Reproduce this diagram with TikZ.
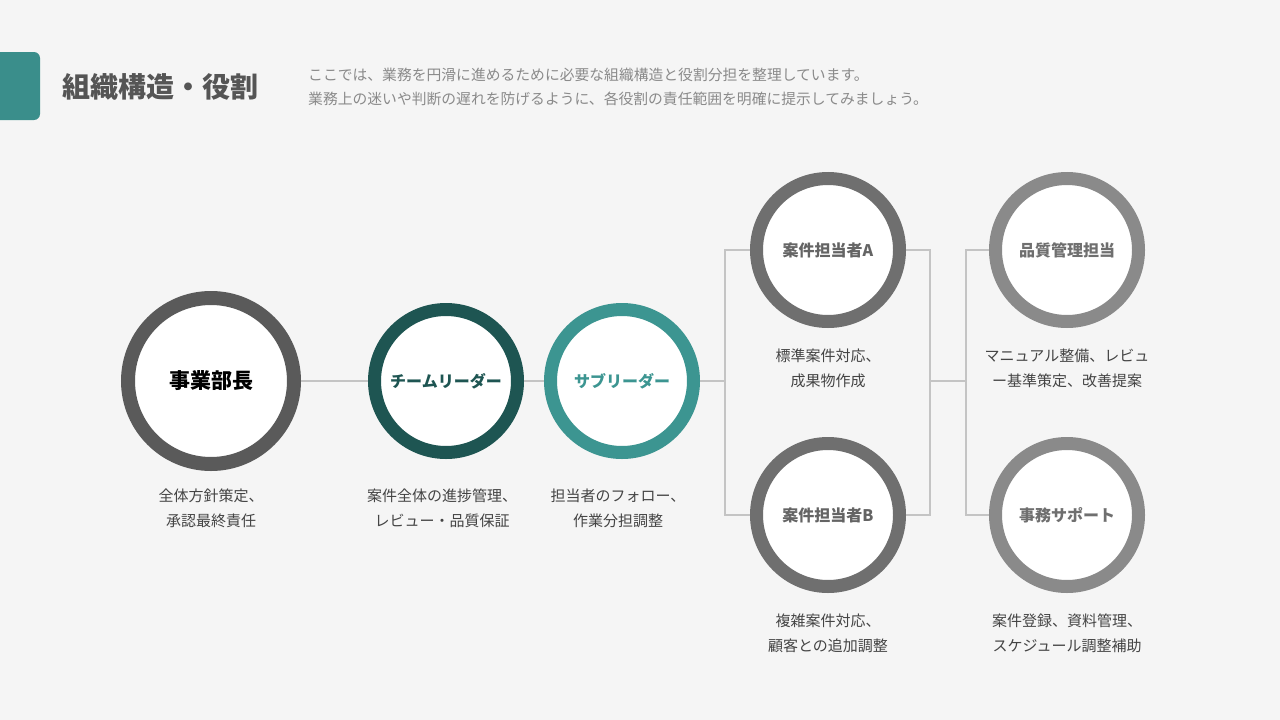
\documentclass[tikz,border=0pt]{standalone}
\usepackage{fontspec}
\setmainfont{Noto Sans CJK JP}
\definecolor{bgc}{HTML}{F5F5F5}
\definecolor{ringA}{HTML}{5A5A5A}
\definecolor{ringTL}{HTML}{1E5552}
\definecolor{ringSL}{HTML}{3C9591}
\definecolor{ringC}{HTML}{6F6F6F}
\definecolor{ringD}{HTML}{8A8A8A}
\definecolor{linec}{HTML}{C4C4C4}
\definecolor{desc}{HTML}{444444}
\definecolor{subc}{HTML}{8A8A8A}
\definecolor{titlec}{HTML}{555555}
\definecolor{tealbar}{HTML}{3A8E8B}
\begin{document}
\begin{tikzpicture}[x=1pt,y=-1pt,
  ring/.style={circle,fill=white,inner sep=0pt,font={\fontsize{16}{19}\selectfont\bfseries}},
  descbox/.style={align=center,text=desc,inner sep=0pt,font={\fontsize{15}{25}\selectfont}},
  conn/.style={draw=linec,line width=1.2pt}]
\fill[bgc] (0,0) rectangle (1280,720);
\useasboundingbox (0,0) rectangle (1280,720);
% header
\fill[tealbar,rounded corners=6pt] (-12,52) rectangle (40,120);
\node[anchor=west,text=titlec,inner sep=0pt,font={\fontsize{28}{30}\selectfont\bfseries}] (title) at (62,87) {組織構造・役割};
\node[anchor=west,text=subc,inner sep=0pt,font={\fontsize{14.8}{18}\selectfont}] (sub1) at (308,75) {ここでは、業務を円滑に進めるために必要な組織構造と役割分担を整理しています。};
\node[anchor=west,text=subc,inner sep=0pt,font={\fontsize{14.8}{18}\selectfont}] (sub2) at (308,99) {業務上の迷いや判断の遅れを防げるように、各役割の責任範囲を明確に提示してみましょう。};
% junctions
\coordinate (j1) at (725,381);
\coordinate (j2) at (930,381);
\coordinate (j3) at (966,381);
% circles
\node[ring,draw=ringA,line width=14pt,minimum size=166pt,text=black,font={\fontsize{21}{24}\selectfont\bfseries}] (bu) at (211,381) {事業部長};
\node[ring,draw=ringTL,line width=13pt,minimum size=143pt,text=ringTL] (tl) at (446,381) {チームリーダー};
\node[ring,draw=ringSL,line width=13pt,minimum size=143pt,text=ringSL] (sl) at (622,381) {サブリーダー};
\node[ring,draw=ringC,line width=13pt,minimum size=143pt,text=ringC!90!black] (ca) at (828,250) {案件担当者A};
\node[ring,draw=ringC,line width=13pt,minimum size=143pt,text=ringC!90!black] (cb) at (828,515) {案件担当者B};
\node[ring,draw=ringD,line width=13pt,minimum size=143pt,text=ringC] (qa) at (1067,250) {品質管理担当};
\node[ring,draw=ringD,line width=13pt,minimum size=143pt,text=ringC] (sp) at (1067,515) {事務サポート};
% connectors
\draw[conn] (bu) -- (tl);
\draw[conn] (tl) -- (sl);
\draw[conn] (sl) -- (j1);
\draw[conn] (ca.west) -| (j1);
\draw[conn] (cb.west) -| (j1);
\draw[conn] (ca.east) -| (j2);
\draw[conn] (cb.east) -| (j2);
\draw[conn] (j2) -- (j3);
\draw[conn] (qa.west) -| (j3);
\draw[conn] (sp.west) -| (j3);
% descriptions
\node[descbox] (d1) at (211,508.5) {全体方針策定、\\承認最終責任};
\node[descbox] (d2) at (442,508.5) {案件全体の進捗管理、\\レビュー・品質保証};
\node[descbox] (d3) at (618,508.5) {担当者のフォロー、\\作業分担調整};
\node[descbox] (d4) at (828,368.5) {標準案件対応、\\成果物作成};
\node[descbox] (d5) at (828,633.5) {複雑案件対応、\\顧客との追加調整};
\node[descbox] (d6) at (1067,368.5) {マニュアル整備、レビュ\\ー基準策定、改善提案};
\node[descbox] (d7) at (1067,633.5) {案件登録、資料管理、\\スケジュール調整補助};
\end{tikzpicture}
\end{document}
